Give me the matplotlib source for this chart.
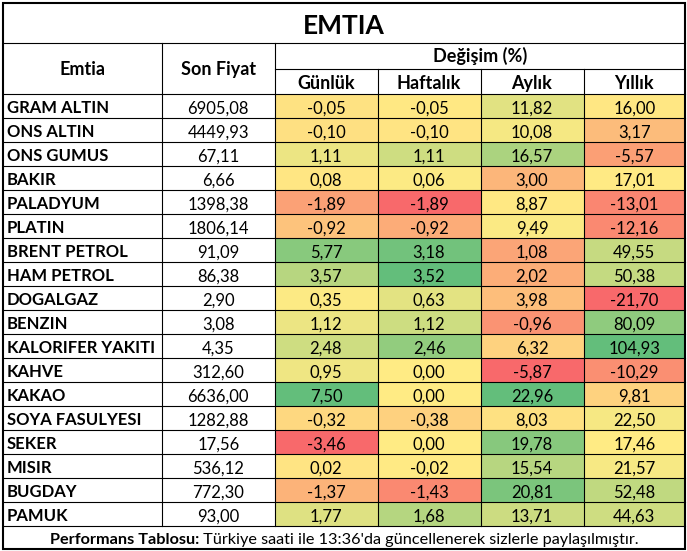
import matplotlib
matplotlib.use("Agg")
import matplotlib.pyplot as plt
from matplotlib.patches import Rectangle
import numpy as np

title = "EMTIA"
col_headers = ["Emtia", "Son Fiyat"]
group_header = "Değişim (%)"
sub_headers = ["Günlük", "Haftalık", "Aylık", "Yıllık"]

commodities = ["GRAM ALTIN", "ONS ALTIN", "ONS GUMUS", "BAKIR", "PALADYUM", "PLATIN",
               "BRENT PETROL", "HAM PETROL", "DOGALGAZ", "BENZIN", "KALORIFER YAKITI",
               "KAHVE", "KAKAO", "SOYA FASULYESI", "SEKER", "MISIR", "BUGDAY", "PAMUK"]
last_price = [6905.08, 4449.93, 67.11, 6.66, 1398.38, 1806.14, 91.09, 86.38, 2.90, 3.08,
              4.35, 312.60, 6636.00, 1282.88, 17.56, 536.12, 772.30, 93.00]
daily = [-0.05, -0.10, 1.11, 0.08, -1.89, -0.92, 5.77, 3.57, 0.35, 1.12, 2.48, 0.95, 7.50,
         -0.32, -3.46, 0.02, -1.37, 1.77]
weekly = [-0.05, -0.10, 1.11, 0.06, -1.89, -0.92, 3.18, 3.52, 0.63, 1.12, 2.46, 0.00, 0.00,
          -0.38, 0.00, -0.02, -1.43, 1.68]
monthly = [11.82, 10.08, 16.57, 3.00, 8.87, 9.49, 1.08, 2.02, 3.98, -0.96, 6.32, -5.87, 22.96,
           8.03, 19.78, 15.54, 20.81, 13.71]
yearly = [16.00, 3.17, -5.57, 17.01, -13.01, -12.16, 49.55, 50.38, -21.70, 80.09, 104.93,
          -10.29, 9.81, 22.50, 17.46, 21.57, 52.48, 44.63]
footer_bold = "Performans Tablosu:"
footer_rest = " Türkiye saati ile 13:36'da güncellenerek sizlerle paylaşılmıştır."

W, H = 687, 551
FONT = "Lato"
plt.rcParams['font.family'] = [FONT, 'DejaVu Sans']

fig = plt.figure(figsize=(W / 100, H / 100), dpi=100)
ax = fig.add_axes([0, 0, 1, 1])
ax.set_xlim(0, W)
ax.set_ylim(H, 0)
ax.axis("off")

xs = [3, 162, 274.5, 377.5, 480.5, 583.5, 685]
y_top, y_title, y_mid, y_hdr = 3, 42.5, 68.5, 94
row_h = 24
n = len(commodities)
y_end = y_hdr + n * row_h
y_bot = 549

RED = np.array([0xF8, 0x69, 0x6B]) / 255
YEL = np.array([0xFF, 0xEB, 0x84]) / 255
GRN = np.array([0x63, 0xBE, 0x7B]) / 255


def scale_colors(vals):
    v = np.array(vals, dtype=float)
    lo, hi = v.min(), v.max()
    mid = np.percentile(v, 50)
    out = []
    for x in v:
        if x <= mid:
            t = 0 if mid == lo else (x - lo) / (mid - lo)
            c = RED + (YEL - RED) * t
        else:
            t = (x - mid) / (hi - mid)
            c = YEL + (GRN - YEL) * t
        out.append(tuple(c))
    return out


series = [daily, weekly, monthly, yearly]
colors = [scale_colors(s) for s in series]

lw_in = 0.8
lw_out = 1.5
txt = "#000000"
fs_data = 12
fs_hdr = 13

# cells
for i in range(n):
    y0 = y_hdr + i * row_h
    yb = y0 + 19.2
    ax.text(xs[0] + 4, yb, commodities[i], ha="left", va="baseline", fontsize=fs_data,
            fontweight="bold", color=txt)
    ax.text((xs[1] + xs[2]) / 2, yb, f"{last_price[i]:.2f}".replace(".", ","), ha="center",
            va="baseline", fontsize=fs_data, color=txt)
    for j, s in enumerate(series):
        x0, x1 = xs[2 + j], xs[3 + j]
        ax.add_patch(Rectangle((x0, y0), x1 - x0, row_h, facecolor=colors[j][i],
                               edgecolor="none", zorder=1))
        ax.text((x0 + x1) / 2, yb, f"{s[i]:.2f}".replace(".", ","), ha="center",
                va="baseline", fontsize=fs_data, color=txt, zorder=3)

# grid lines
for i in range(n + 1):
    y = y_hdr + i * row_h
    ax.plot([xs[0], xs[-1]], [y, y], color="black", lw=lw_in, zorder=4)
for k, x in enumerate(xs[1:-1], start=1):
    if k in (1, 2):
        ax.plot([x, x], [y_title, y_end], color="black", lw=lw_in, zorder=4)
    else:
        ax.plot([x, x], [y_mid, y_end], color="black", lw=lw_in, zorder=4)
ax.plot([xs[0], xs[-1]], [y_title, y_title], color="black", lw=lw_in, zorder=4)
ax.plot([xs[2], xs[-1]], [y_mid, y_mid], color="black", lw=lw_in, zorder=4)
ax.add_patch(Rectangle((xs[0], y_top), xs[-1] - xs[0], y_bot - y_top, facecolor="none",
                       edgecolor="black", lw=lw_out, zorder=5))

# headers
ax.text((xs[0] + xs[-1]) / 2, 33.5, title, ha="center", va="baseline",
        fontsize=19, fontweight="bold", color=txt)
ax.text((xs[0] + xs[1]) / 2, 75, col_headers[0], ha="center",
        va="baseline", fontsize=fs_hdr, fontweight="bold", color=txt)
ax.text((xs[1] + xs[2]) / 2, 75, col_headers[1], ha="center",
        va="baseline", fontsize=fs_hdr, fontweight="bold", color=txt)
ax.text((xs[2] + xs[-1]) / 2, 61.5, group_header, ha="center",
        va="baseline", fontsize=fs_hdr, fontweight="bold", color=txt)
for j, h in enumerate(sub_headers):
    ax.text((xs[2 + j] + xs[3 + j]) / 2, 89.3, h, ha="center",
            va="baseline", fontsize=fs_hdr, fontweight="bold", color=txt)

# footer
fig.canvas.draw()
r = fig.canvas.get_renderer()
yf = 544.3
t1 = ax.text(0, yf, footer_bold, ha="left", va="baseline", fontsize=11.7, fontweight="bold",
             color=txt)
t2 = ax.text(0, yf, footer_rest, ha="left", va="baseline", fontsize=11.7, color=txt)
w1 = t1.get_window_extent(r).width
w2 = t2.get_window_extent(r).width
start = (xs[0] + xs[-1]) / 2 - (w1 + w2) / 2
t1.set_x(start)
t2.set_x(start + w1)

fig.savefig("out.png", dpi=100, facecolor="white")
